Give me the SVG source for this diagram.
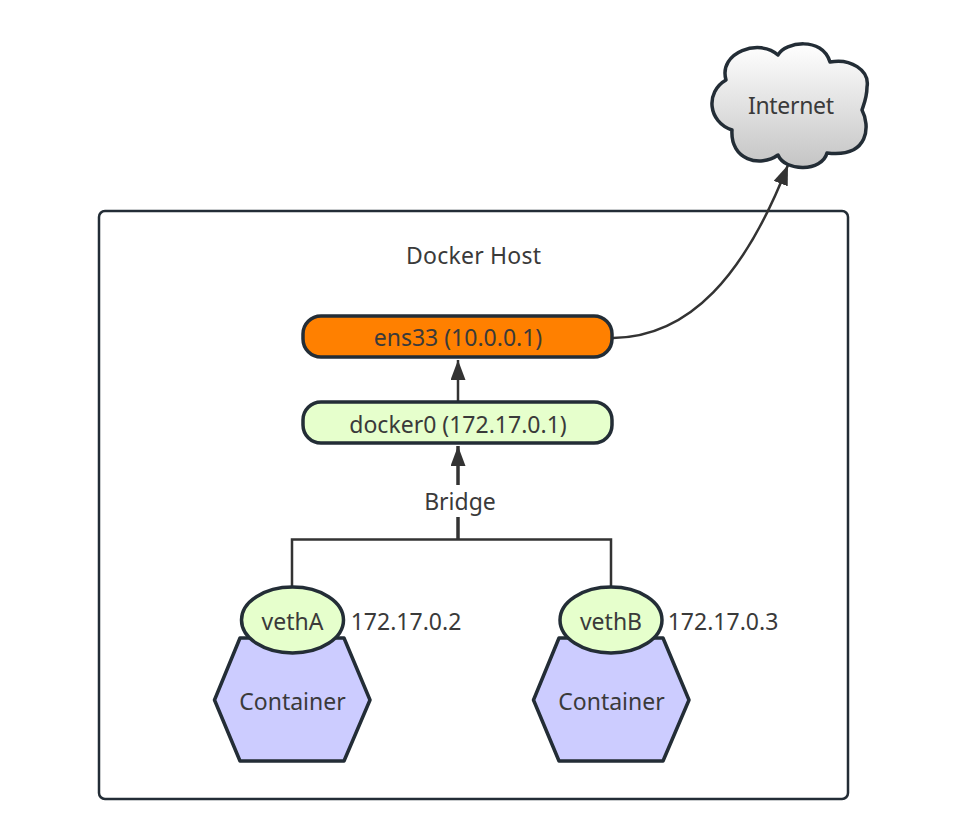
<svg xmlns="http://www.w3.org/2000/svg" width="977" height="827" viewBox="0 0 977 827">
<style>
text{font-family:"Noto Sans","Open Sans","Liberation Sans",sans-serif;font-size:23px;fill:#3a3a3a;text-anchor:middle}
.s{stroke:#232d36;stroke-width:3.500;stroke-linejoin:round}
.c{fill:none;stroke:#333;stroke-width:2.500}
.g{fill:#e6ffcc}
.h{fill:#ccccff}
</style>
<defs>
<linearGradient id="cloudFill" x1="0" y1="0" x2="0" y2="1"><stop offset="0" stop-color="#ffffff"/><stop offset="1" stop-color="#c4c4c4"/></linearGradient>
<marker id="arrow" markerUnits="userSpaceOnUse" markerWidth="20" markerHeight="15" refX="20" refY="7.500" viewBox="0 0 20 15" orient="auto"><path d="M0 0L20 7.500L0 15Z" fill="#333"/></marker>
</defs>
<rect width="977" height="827" fill="#fff"/>
<g id="host"><rect x="99" y="211" width="749" height="588" rx="6" fill="#fff" stroke="#232d36" stroke-width="2.500"/><text x="473.500" y="264" textLength="135" lengthAdjust="spacing">Docker Host</text></g>
<g id="connectors">
<path class="c" d="M613 338C690 337 745 275 788 165" marker-end="url(#arrow)"/>
<path class="c" d="M458 401V360" marker-end="url(#arrow)"/>
<path class="c" d="M458 485V446" style="stroke-width:3.500" marker-end="url(#arrow)"/>
<path class="c" d="M458 517V539" style="stroke-width:3.500"/>
<path class="c" d="M292 586V539.500H611V586"/>
</g>
<g id="bridge-label"><text x="460" y="509.500">Bridge</text></g>
<g id="internet"><path class="s" d="M778 55C785 42 822 36 830 62C850 58 870 70 867 87C867 97 864 104 862 110C870 125 870 158 827 153C822 172 785 172 778 155C760 168 730 160 732 130C708 122 705 92 726 80C718 52 760 38 778 55Z" fill="url(#cloudFill)"/><text x="791" y="113.500" textLength="86" lengthAdjust="spacing">Internet</text></g>
<g id="ens33"><rect class="s" x="303" y="316" width="309" height="41" rx="18" fill="#ff8000"/><text x="458" y="346">ens33 (10.0.0.1)</text></g>
<g id="docker0"><rect class="s g" x="303" y="402" width="309" height="41" rx="18"/><text x="458" y="432.500">docker0 (172.17.0.1)</text></g>
<g id="containerA"><path class="s h" d="M240 638H344L370 700L344 761H240L214.500 700Z"/><text x="292.500" y="709.500">Container</text></g>
<g id="vethA"><ellipse class="s g" cx="292.500" cy="620" rx="51" ry="33"/><text x="292.500" y="629.500">vethA</text><text x="406" y="629.500">172.17.0.2</text></g>
<g id="containerB"><path class="s h" d="M559 638H663L689 700L663 761H559L533.500 700Z"/><text x="611.500" y="709.500">Container</text></g>
<g id="vethB"><ellipse class="s g" cx="611" cy="620" rx="51" ry="33"/><text x="611" y="629.500">vethB</text><text x="723" y="629.500">172.17.0.3</text></g>
</svg>
